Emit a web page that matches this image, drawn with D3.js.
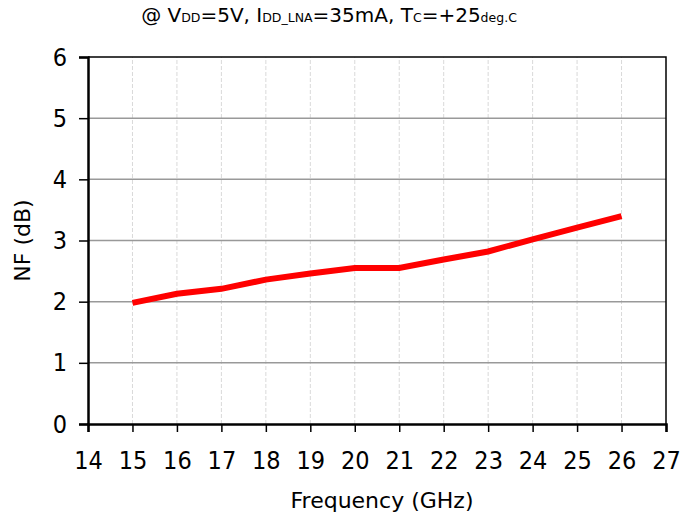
<!DOCTYPE html>
<html>
<head>
<meta charset="utf-8">
<script src="https://cdn.jsdelivr.net/npm/d3@7"></script>
<style>
  body { margin: 0; background: #fff; }
  svg text { font-family: "DejaVu Sans", Verdana, sans-serif; fill: #000; }
</style>
</head>
<body>
<svg class="chart" width="680" height="518"></svg>
<script>
// NF vs frequency
let freqs = [15, 16, 17, 18, 19, 20, 21, 22, 23, 24, 25, 26];
let nf = [1.98, 2.13, 2.21, 2.36, 2.46, 2.55, 2.55, 2.69, 2.82, 3.02, 3.21, 3.40];
let xTicks = d3.range(14, 28);
let yTicks = [0, 1, 2, 3, 4, 5, 6];

let svg = d3.select(".chart");
let margin = {left: 88, right: 14, top: 57, bottom: 94};
let W = 680, H = 518;

let x = d3.scaleLinear().domain([14, 27]).range([margin.left, W - margin.right]);
let y = d3.scaleLinear().domain([0, 6]).range([H - margin.bottom, margin.top]);

// vertical dashed grid
svg.append("g")
  .selectAll("line")
  .data(xTicks.slice(1, -1))
  .enter().append("line")
  .attr("x1", d => x(d)).attr("x2", d => x(d))
  .attr("y1", y(0)).attr("y2", y(6))
  .style("stroke", "#d9d9d9")
  .style("stroke-width", 1)
  .style("stroke-dasharray", "4,2");

// horizontal grid
svg.append("g")
  .selectAll("line")
  .data(yTicks.slice(1, -1))
  .enter().append("line")
  .attr("x1", x(14)).attr("x2", x(27))
  .attr("y1", d => y(d)).attr("y2", d => y(d))
  .style("stroke", "#999")
  .style("stroke-width", 1.5);

// plot border (top + right)
svg.append("path")
  .attr("d", `M${x(14)},${y(6)}H${x(27)}V${y(0)}`)
  .style("fill", "none")
  .style("stroke", "#000")
  .style("stroke-width", 1.5);

// axes
let xAxis = svg.append("g")
  .attr("transform", `translate(0,${y(0)})`)
  .call(d3.axisBottom(x).tickValues(xTicks).tickSize(8).tickPadding(19).tickFormat(d3.format("d")));
let yAxis = svg.append("g")
  .attr("transform", `translate(${x(14)},0)`)
  .call(d3.axisLeft(y).tickValues(yTicks).tickSize(9).tickPadding(12).tickFormat(d3.format("d")));

[xAxis, yAxis].forEach(g => {
  g.select(".domain").style("stroke", "#000").style("stroke-width", 2.5);
  g.selectAll(".tick line").style("stroke", "#000").style("stroke-width", 1.5);
  g.selectAll(".tick text")
    .style("font-size", "25px")
    .style("font-family", "'DejaVu Sans Condensed', 'DejaVu Sans', sans-serif");
});

// the data line
let line = d3.line().x((d, i) => x(freqs[i])).y(d => y(d));
svg.append("path")
  .datum(nf)
  .attr("d", line)
  .style("fill", "none")
  .style("stroke", "#ff0000")
  .style("stroke-width", 6);

// axis titles
svg.append("text")
  .attr("x", 382)
  .attr("y", 508)
  .attr("text-anchor", "middle")
  .style("font-size", "22px")
  .text("Frequency (GHz)");

svg.append("text")
  .attr("transform", `translate(30,${(y(0) + y(6)) / 2}) rotate(-90)`)
  .attr("text-anchor", "middle")
  .style("font-size", "22px")
  .text("NF (dB)");

// title with subscripts
let title = svg.append("text")
  .attr("x", 329)
  .attr("y", 22)
  .attr("text-anchor", "middle")
  .style("font-size", "20px");
let parts = [["@ V", 0], ["DD", 1], ["=5V, I", 0], ["DD_LNA", 1], ["=35mA, T", 0], ["C", 1], ["=+25", 0], ["deg.C", 1]];
parts.forEach(p => {
  title.append("tspan")
    .style("font-size", p[1] ? "12.5px" : "20px")
    .text(p[0]);
});
</script>
</body>
</html>
